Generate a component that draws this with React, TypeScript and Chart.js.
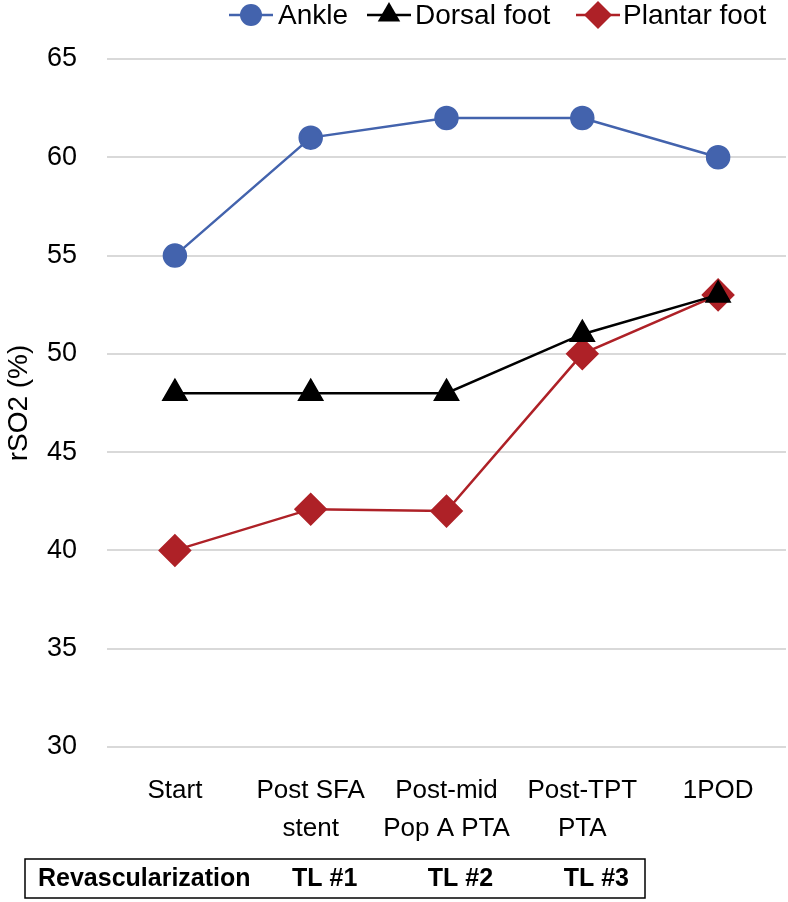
import React, { useEffect, useRef } from "react";
import { Chart, registerables } from "chart.js";

Chart.register(...registerables);

const categories: string[][] = [
  ["Start"],
  ["Post SFA", "stent"],
  ["Post-mid", "Pop A PTA"],
  ["Post-TPT", "PTA"],
  ["1POD"],
];
const ankle = [55, 61, 62, 62, 60];
const dorsalFoot = [48, 48, 48, 51, 53];
const plantarFoot = [40, 42.1, 42, 50, 53];
const revascRowLabel = "Revascularization";
const revascLabels = ["", "TL #1", "TL #2", "TL #3", ""];
const yTitle = "rSO2 (%)";

const FONT = "'Liberation Sans', Arial, sans-serif";

const legendPos = [
  { line: [229, 273], text: 278 },
  { line: [367, 411], text: 415 },
  { line: [576, 620], text: 623 },
];

const customPlugin = {
  id: "custom",
  afterDraw(chart: any) {
    const ctx = chart.ctx as CanvasRenderingContext2D;
    ctx.save();
    const ly = 15;
    chart.data.datasets.forEach((ds: any, i: number) => {
      const p = legendPos[i];
      ctx.strokeStyle = ds.borderColor;
      ctx.lineWidth = 2.5;
      ctx.beginPath();
      ctx.moveTo(p.line[0], ly);
      ctx.lineTo(p.line[1], ly);
      ctx.stroke();
      const cx = (p.line[0] + p.line[1]) / 2;
      ctx.fillStyle = ds.pointBackgroundColor;
      ctx.beginPath();
      if (ds.pointStyle === "circle") {
        ctx.arc(cx, ly, 11, 0, Math.PI * 2);
      } else if (ds.pointStyle === "triangle") {
        const r = 13;
        ctx.moveTo(cx, ly - r);
        ctx.lineTo(cx + r * 0.866, ly + r * 0.5);
        ctx.lineTo(cx - r * 0.866, ly + r * 0.5);
        ctx.closePath();
      } else {
        const r = 14;
        ctx.moveTo(cx, ly - r);
        ctx.lineTo(cx + r, ly);
        ctx.lineTo(cx, ly + r);
        ctx.lineTo(cx - r, ly);
        ctx.closePath();
      }
      ctx.fill();
      ctx.fillStyle = "#000";
      ctx.font = `28px ${FONT}`;
      ctx.textBaseline = "middle";
      ctx.textAlign = "left";
      ctx.fillText(ds.label, p.text, ly + 1);
    });

    const x = chart.scales.x;
    const top = 859;
    const bottom = 898;
    const left = 25;
    const right = 645;
    ctx.strokeStyle = "#000";
    ctx.lineWidth = 1.5;
    ctx.strokeRect(left, top, right - left, bottom - top);
    ctx.font = `bold 25px ${FONT}`;
    ctx.textBaseline = "middle";
    ctx.textAlign = "left";
    ctx.fillStyle = "#000";
    ctx.fillText(revascRowLabel, 38, (top + bottom) / 2 + 1);
    ctx.textAlign = "center";
    revascLabels.forEach((t, i) => {
      if (!t) return;
      ctx.fillText(t, x.getPixelForValue(i) + 14, (top + bottom) / 2 + 1);
    });
    ctx.restore();
  },
};

export default function App() {
  const ref = useRef<HTMLCanvasElement>(null);
  useEffect(() => {
    if (!ref.current) return;
    const chart = new Chart(ref.current, {
      type: "line",
      data: {
        labels: categories,
        datasets: [
          {
            label: "Ankle",
            data: ankle,
            borderColor: "#4363ad",
            backgroundColor: "#4363ad",
            pointBackgroundColor: "#4363ad",
            pointBorderColor: "#4363ad",
            pointStyle: "circle",
            pointRadius: 11,
            borderWidth: 2.5,
          },
          {
            label: "Dorsal foot",
            data: dorsalFoot,
            borderColor: "#000000",
            backgroundColor: "#000000",
            pointBackgroundColor: "#000000",
            pointBorderColor: "#000000",
            pointStyle: "triangle",
            pointRadius: 13,
            borderWidth: 2.5,
          },
          {
            label: "Plantar foot",
            data: plantarFoot,
            borderColor: "#ae2127",
            backgroundColor: "#ae2127",
            pointBackgroundColor: "#ae2127",
            pointBorderColor: "#ae2127",
            pointStyle: "rectRot",
            pointRadius: 15,
            borderWidth: 2.5,
          },
        ] as any,
      },
      options: {
        responsive: false,
        animation: false,
        layout: { autoPadding: false, padding: { top: 59, right: 2, left: 0, bottom: 0 } },
        plugins: {
          legend: { display: false },
          tooltip: { enabled: false },
        },
        scales: {
          x: {
            offset: true,
            grid: { display: false, offset: true },
            border: { display: false },
            ticks: {
              color: "#000",
              font: { family: FONT, size: 26, lineHeight: 1.45 },
              padding: 17,
              maxRotation: 0,
              autoSkip: false,
            },
            afterFit(scale: any) {
              scale.height = 155;
              scale.paddingLeft = 0;
              scale.paddingRight = 0;
            },
          },
          y: {
            min: 30,
            max: 65,
            grid: { color: "#d9d9d9", lineWidth: 2, drawTicks: false },
            border: { display: false },
            ticks: {
              stepSize: 5,
              color: "#000",
              font: { family: FONT, size: 27 },
              padding: 30,
            },
            title: {
              display: true,
              text: yTitle,
              color: "#000",
              font: { family: FONT, size: 28 },
              padding: { top: 2, bottom: 0 },
            },
            afterFit(scale: any) {
              scale.width = 107;
            },
          },
        },
      } as any,
      plugins: [customPlugin],
    });
    return () => chart.destroy();
  }, []);
  return (
    <div style={{ position: "absolute", left: 0, top: 0, width: 788, height: 902, background: "#fff" }}>
      <canvas ref={ref} width={788} height={902} style={{ width: 788, height: 902 }} />
    </div>
  );
}
